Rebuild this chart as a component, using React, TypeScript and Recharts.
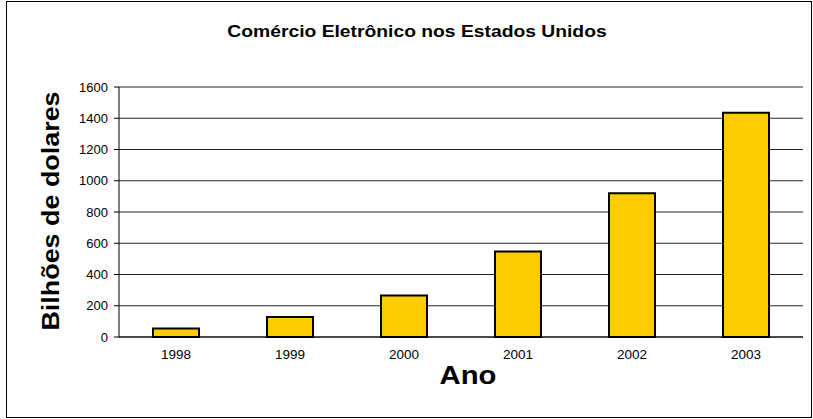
import { BarChart, Bar, XAxis, YAxis, CartesianGrid, Label } from 'recharts'

const anos = ['1998', '1999', '2000', '2001', '2002', '2003']
const bilhoes = [55, 128, 265, 548, 920, 1435]
const yTicks = [0, 200, 400, 600, 800, 1000, 1200, 1400, 1600]

const data = anos.map((ano, i) => ({ ano, valor: bilhoes[i] }))

const font = 'Arial, "Liberation Sans", sans-serif'
// bold titles in the original are a bit wider than plain Arial
const stretch = 1.17

const YTitle = ({ viewBox }: any) => {
  const x = 59
  const cy = viewBox.y + viewBox.height / 2 - 1
  return (
    <text
      transform={`translate(${x} ${cy}) rotate(-90) scale(${stretch} 1)`}
      textAnchor="middle"
      fontFamily={font}
      fontWeight="bold"
      fontSize={23}
      fill="#000"
    >
      Bilhões de dolares
    </text>
  )
}

const XTitle = ({ viewBox }: any) => (
  <text
    transform={`translate(468 ${viewBox.y + 47}) scale(${stretch} 1)`}
    textAnchor="middle"
    fontFamily={font}
    fontWeight="bold"
    fontSize={25}
    fill="#000"
  >
    Ano
  </text>
)

export default function App() {
  return (
    <div style={{ position: 'absolute', left: 0, top: 0, width: 813, height: 419, background: '#fff' }}>
      <div
        style={{
          position: 'absolute',
          left: 6,
          top: 1,
          width: 804,
          height: 415,
          border: '1px solid #000',
        }}
      />
      <svg width={813} height={60} style={{ position: 'absolute', left: 0, top: 0 }}>
        <text
          transform={`translate(417 37) scale(${stretch} 1)`}
          textAnchor="middle"
          fontFamily={font}
          fontWeight="bold"
          fontSize={16.5}
          fill="#000"
        >
          Comércio Eletrônico nos Estados Unidos
        </text>
      </svg>
      <div style={{ position: 'absolute', left: 0, top: 0 }}>
        <BarChart width={813} height={419} data={data} margin={{ top: 87, right: 10, bottom: 0, left: 0 }}>
          <CartesianGrid vertical={false} stroke="#000" strokeOpacity={0.85} />
          <XAxis
            dataKey="ano"
            tickLine={false}
            axisLine={{ stroke: '#000' }}
            tick={{ fill: '#000', fontSize: 13.5, fontFamily: font }}
            tickMargin={6}
            height={82}
          >
            <Label content={<XTitle />} />
          </XAxis>
          <YAxis
            width={119}
            domain={[0, 1600]}
            ticks={yTicks}
            interval={0}
            tickSize={5}
            tickMargin={6}
            axisLine={{ stroke: '#000' }}
            tickLine={{ stroke: '#000' }}
            tick={{ fill: '#000', fontSize: 13, fontFamily: font }}
          >
            <Label content={<YTitle />} />
          </YAxis>
          <YAxis
            yAxisId="r"
            orientation="right"
            width={0}
            tick={false}
            tickLine={false}
            axisLine={{ stroke: '#808080' }}
          />
          <Bar dataKey="valor" fill="#FFCC00" stroke="#000" strokeWidth={2} barSize={46} isAnimationActive={false} />
        </BarChart>
      </div>
    </div>
  )
}
